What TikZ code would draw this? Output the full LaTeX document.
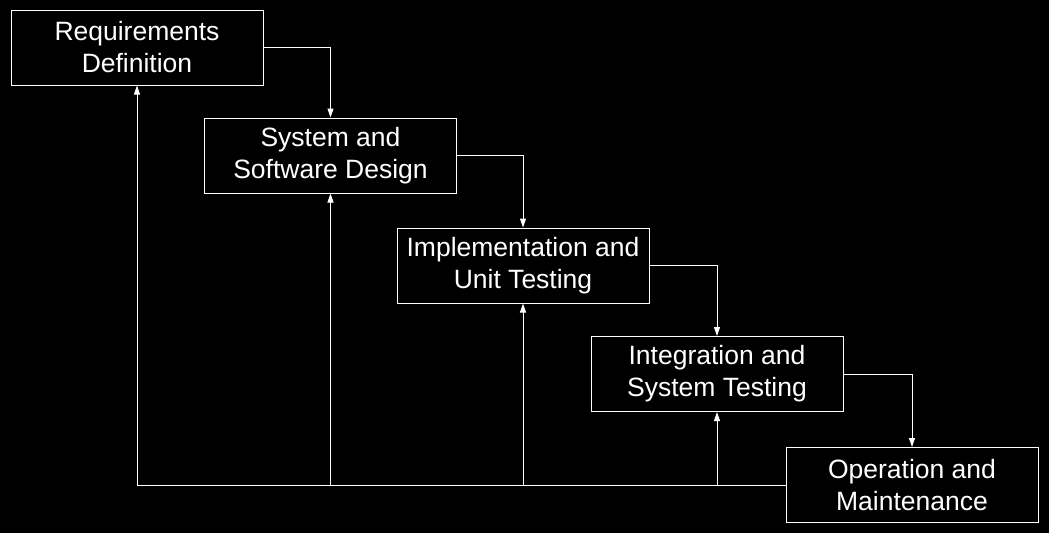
\documentclass[tikz,border=0pt]{standalone}
\usepackage{fontspec}
\setmainfont{Liberation Sans}
\usetikzlibrary{arrows.meta}
\begin{document}
\begin{tikzpicture}[x=1pt,y=-1pt,
  stage/.style={draw=white,line width=1pt,minimum width=252pt,minimum height=75pt,
    text=white,align=center,inner sep=0pt,font=\fontsize{26.5}{32}\selectfont},
  flow/.style={draw=white,line width=1pt,-{Triangle[length=9pt,width=6pt]}}]
\fill[black] (0,0) rectangle (1049,533);
\useasboundingbox (0,0) rectangle (1049,533);
\node[stage] (r) at (137,47.5) {Requirements\\Definition};
\node[stage] (s) at (330.5,155.5) {System and\\Software Design};
\node[stage] (i) at (523,265.5) {Implementation and\\Unit Testing};
\node[stage] (t) at (717,374) {Integration and\\System Testing};
\node[stage] (o) at (912,485) {Operation and\\Maintenance};
\draw[flow] (r.east) -| (s.north);
\draw[flow] (s.east) -| (i.north);
\draw[flow] (i.east) -| (t.north);
\draw[flow] (t.east) -| (o.north);
\coordinate (fb) at (137,485);
\draw[flow] (o.west) -- (fb) -- (r.south);
\draw[flow] (s.south |- fb) -- (s.south);
\draw[flow] (i.south |- fb) -- (i.south);
\draw[flow] (t.south |- fb) -- (t.south);
\end{tikzpicture}
\end{document}
